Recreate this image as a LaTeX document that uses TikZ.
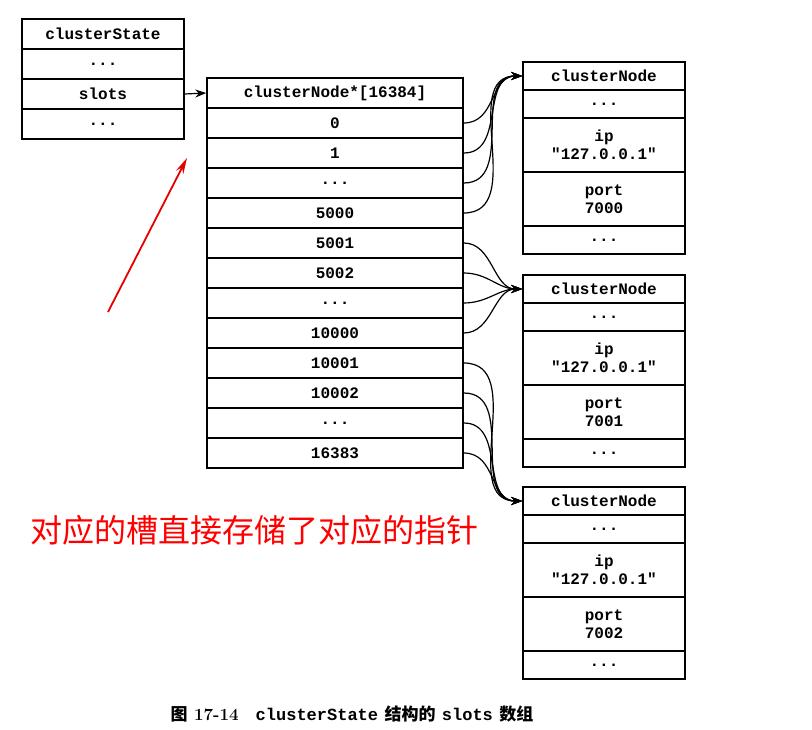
\documentclass[tikz,border=0pt]{standalone}
\usepackage{fontspec}
\setmonofont{Liberation Mono}
\newfontfamily\cjk{Noto Sans CJK SC}
\usetikzlibrary{arrows.meta}

\newcommand\ellip{.{}.{}.}
\tikzset{
	cell/.style={draw, line width=1.5, inner sep=0pt, font=\ttfamily\bfseries\fontsize{16}{18}\selectfont, align=center},
	link/.style={line width=1.2, -{Stealth[length=11pt,width=8pt]}}
}

\begin{document}
\begin{tikzpicture}[x=1pt, y=-1pt]
		\useasboundingbox (0, 0) rectangle (812, 730);

		% clusterState
		\foreach \t [count=\i from 0] in {clusterState, \ellip, slots, \ellip}
			\node [cell, minimum width=162, minimum height=30] (cs\i) at (103, 34+30*\i) {\t};

		% slots array
		\foreach \t [count=\i from 0] in {clusterNode*[16384], 0, 1, \ellip, 5000, 5001, 5002, \ellip, 10000, 10001, 10002, \ellip, 16383}
			\node [cell, minimum width=256, minimum height=30] (a\i) at (335, 93+30*\i) {\t};

		% clusterNode boxes
		\foreach \b/\top [count=\n from 1] in {7000/62, 7001/275, 7002/487} {
			\node [cell, minimum width=162, minimum height=28] (n\n h) at (604, \top+14) {clusterNode};
			\node [cell, minimum width=162, minimum height=28] (n\n a) at (604, \top+42) {\ellip};
			\node [cell, minimum width=162, minimum height=54] (n\n ip) at (604, \top+83) {ip\\"127.0.0.1"};
			\node [cell, minimum width=162, minimum height=54] (n\n p) at (604, \top+137) {port\\\b};
			\node [cell, minimum width=162, minimum height=28] (n\n b) at (604, \top+178) {\ellip};
		}

		\draw [link] (cs2.east) -- (a0.west);
		\foreach \i in {1,2,3,4}
			\draw [link] (a\i.east) to [out=0, in=180, looseness=1.1] (n1h.west);
		\foreach \i in {5,6,7,8}
			\draw [link] (a\i.east) to [out=0, in=180] (n2h.west);
		\foreach \i in {9,10,11,12}
			\draw [link] (a\i.east) to [out=0, in=180, looseness=1.1] (n3h.west);

		% note
		\coordinate (tail) at (108, 312);
		\coordinate (tip) at (187, 158);
		\draw [red!90!black, line width=1.8, -{Stealth[length=16pt,width=8pt]}] (tail) -- (tip);
		\node [red, font=\cjk\fontsize{32}{36}\selectfont, anchor=west, inner sep=0pt] (note) at (30, 530) {对应的槽直接存储了对应的指针};

		\node [font=\bfseries\fontsize{17}{19}\selectfont] (cap) at (352, 714)
			{{\cjk\bfseries 图} 17-14\quad {\ttfamily clusterState} {\cjk\bfseries 结构的} {\ttfamily slots} {\cjk\bfseries 数组}};
	\end{tikzpicture}
\end{document}
